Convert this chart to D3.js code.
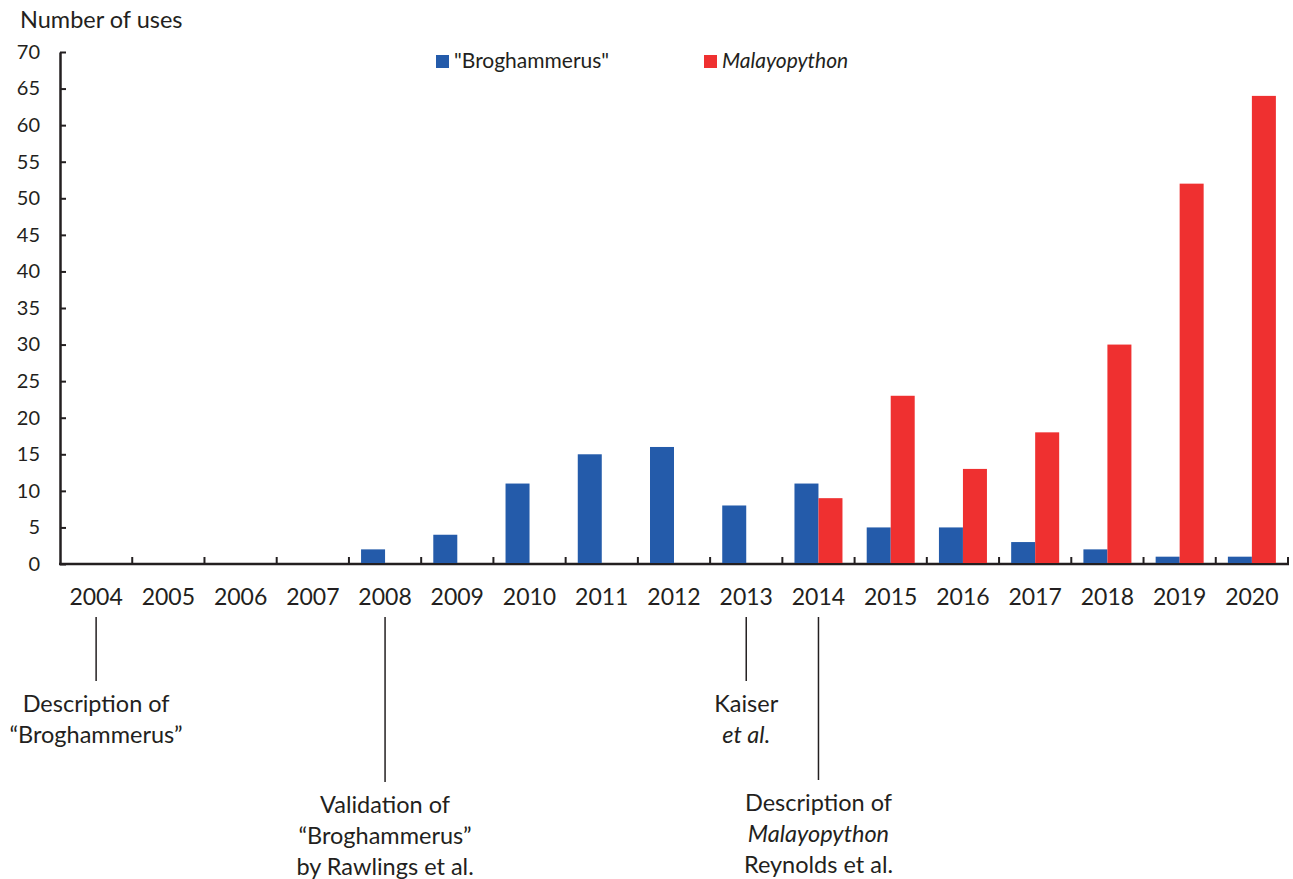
<!DOCTYPE html>
<html>
<head>
<meta charset="utf-8">
<script src="https://cdn.jsdelivr.net/npm/d3@7"></script>
<style>
    body { margin: 0; background: #fff; }
    svg { font-family: Lato, "Open Sans", sans-serif; fill: #231f20; }
    .axis path, .axis line { stroke: #231f20; }
</style>
</head>
<body>
<svg id="chart" width="1293" height="879"></svg>
<script>
// data
const years= ["2004","2005","2006","2007","2008","2009","2010","2011","2012","2013","2014","2015","2016","2017","2018","2019","2020"]
const broghammerus= [0,0,0,0,2,4,11,15,16,8,11,5,5,3,2,1,1]
const malayopython= [0,0,0,0,0,0,0,0,0,0,9,23,13,18,30,52,64]
const y_ticks= [0,5,10,15,20,25,30,35,40,45,50,55,60,65,70]

// annotations: year the line hangs from, line length, text lines ([text, italic])
const notes= [
    {year:"2004", end:681, lines:[["Description of",false],["\u201cBroghammerus\u201d",false]]},
    {year:"2008", end:782, lines:[["Validation of",false],["\u201cBroghammerus\u201d",false],["by Rawlings et al.",false]]},
    {year:"2013", end:681, lines:[["Kaiser",false],["et al.",true]]},
    {year:"2014", end:780, lines:[["Description of",false],["Malayopython",true],["Reynolds et al.",false]]},
]

const blue= "#245baa"
const red= "#ef3030"

const svg= d3.select("#chart")

// scales
const x= d3.scaleBand().domain(years).range([60, 1288])
const y= d3.scaleLinear().domain([0, 70]).range([564, 52])
const bar_w= 24

// y axis (ticks point inward)
const y_axis= svg.append("g")
    .attr("class", "axis")
    .attr("transform", "translate(60,0)")
    .call(d3.axisLeft(y).tickValues(y_ticks).tickSizeInner(-6).tickSizeOuter(0).tickPadding(20))
y_axis.select(".domain").attr("stroke-width", 2.5)
y_axis.selectAll("line").attr("stroke-width", 2)
y_axis.selectAll("text")
    .attr("font-size", 20)
    .attr("font-family", "Lato")
    .attr("fill", "#231f20")

// x axis: ticks at band boundaries
svg.append("line")
    .attr("x1", 59).attr("x2", 1289)
    .attr("y1", y(0)).attr("y2", y(0))
    .attr("stroke", "#231f20").attr("stroke-width", 2.5)
svg.append("g")
    .selectAll("line")
    .data(years)
    .join("line")
    .attr("x1", d => x(d) + x.bandwidth())
    .attr("x2", d => x(d) + x.bandwidth())
    .attr("y1", y(0)).attr("y2", y(0)-7)
    .attr("stroke", "#231f20").attr("stroke-width", 2)
svg.append("g")
    .selectAll("text")
    .data(years)
    .join("text")
    .attr("x", d => x(d) + x.bandwidth()/2)
    .attr("y", 605)
    .attr("text-anchor", "middle")
    .attr("font-size", 23)
    .text(d => d)

// bars
svg.append("g")
    .selectAll("rect")
    .data(years.map((d,i) => ({year:d, v:broghammerus[i]})).filter(d => d.v > 0))
    .join("rect")
    .attr("x", d => x(d.year) + x.bandwidth()/2 - bar_w)
    .attr("y", d => y(d.v))
    .attr("width", bar_w)
    .attr("height", d => y(0) - y(d.v) - 1)
    .attr("fill", blue)
svg.append("g")
    .selectAll("rect")
    .data(years.map((d,i) => ({year:d, v:malayopython[i]})).filter(d => d.v > 0))
    .join("rect")
    .attr("x", d => x(d.year) + x.bandwidth()/2)
    .attr("y", d => y(d.v))
    .attr("width", bar_w)
    .attr("height", d => y(0) - y(d.v) - 1)
    .attr("fill", red)

// axis title
svg.append("text")
    .attr("x", 20).attr("y", 28)
    .attr("font-size", 23.5)
    .text("Number of uses")

// legend
const legend= svg.append("g").attr("font-size", 21)
legend.append("rect").attr("x", 436).attr("y", 55).attr("width", 13).attr("height", 13).attr("fill", blue)
legend.append("text").attr("x", 454).attr("y", 68).text("\"Broghammerus\"")
legend.append("rect").attr("x", 704).attr("y", 55).attr("width", 13).attr("height", 13).attr("fill", red)
legend.append("text").attr("x", 722).attr("y", 68).attr("font-style", "italic").text("Malayopython")

// annotations
const note_g= svg.append("g")
notes.forEach(n => {
    let cx= x(n.year) + x.bandwidth()/2
    note_g.append("line")
        .attr("x1", cx).attr("x2", cx)
        .attr("y1", 617).attr("y2", n.end)
        .attr("stroke", "#231f20").attr("stroke-width", 1.5)
    n.lines.forEach(([t, it], i) => {
        note_g.append("text")
            .attr("x", cx)
            .attr("y", n.end + 31 + i*31)
            .attr("text-anchor", "middle")
            .attr("font-size", 23.5)
            .attr("font-style", it ? "italic" : "normal")
            .text(t)
    })
})
</script>
</body>
</html>
